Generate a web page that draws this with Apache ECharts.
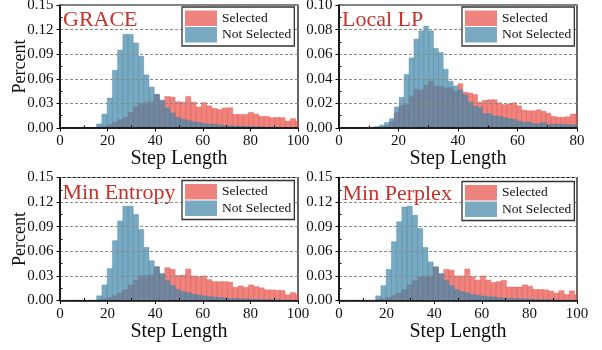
<!DOCTYPE html>
<html>
<head>
<meta charset="utf-8">
<script src="https://cdn.jsdelivr.net/npm/echarts@6/dist/echarts.min.js"></script>
<style>html,body{margin:0;padding:0;background:#fff;}#c{width:602px;height:350px;}</style>
</head>
<body>
<div id="c"></div>
<script>
// ---------------- DATA ----------------
const panelTitles = ['GRACE', 'Local LP', 'Min Entropy', 'Min Perplex'];
const seriesNames = ['Selected', 'Not Selected'];
const xMax = [100, 80, 100, 100];
const yMax = [0.15, 0.10, 0.15, 0.15];
const yInterval = [0.03, 0.02, 0.03, 0.03];
const xInterval = 20;
// histogram bin edges: start + width * k
const binStart = [0, 0.5, 0, 0];
const binWidth = [2.2, 1.645, 2.2, 2.2];

const graceSelected = [0.0004,0.0004,0.0004,0.0004,0.0004,0.0004,0.0004,
  0.0015,0.002,0.004,0.007,0.0105,0.013,0.019,0.026,0.030,0.031,0.032,0.041,0.033,
  0.0385,0.0377,0.032,0.0316,0.0385,0.0316,0.0255,0.031,0.027,0.024,0.0225,0.0245,0.0247,
  0.0166,0.0166,0.0166,0.0192,0.017,0.0142,0.0142,0.0126,0.013,0.0126,0.0085,0.0115,0.0082];
const graceNotSelected = [0.0003,0.0003,0.0003,0.0003,0.0003,0.0003,0.0003,
  0.005,0.017,0.0365,0.0705,0.095,0.1142,0.1142,0.1037,0.0875,0.0648,0.050,0.041,0.034,
  0.0245,0.0183,0.0130,0.0108,0.0094,0.0075,0.0066,0.0055,0.0048,0.0044,0.0036,0.0030,0.0027,
  0.0024,0.0022,0.0020,0.0018,0.0016,0.0014,0.0012,0.0010,0.0009,0.0007,0.0006,0.0005,0.0004];

const localSelected = [0.0004,0.0004,0.0004,0.0004,0.0004,0.0004,0.0004,0.0004,
  0.0008,0.002,0.0054,0.0125,0.0185,0.019,0.0258,0.0315,0.0307,0.0348,0.038,0.0342,0.0337,0.0326,0.033,0.030,
  0.036,0.029,0.0285,0.0272,0.021,0.0225,0.023,0.023,0.0205,0.019,0.0195,0.0205,0.018,0.0145,
  0.014,0.014,0.0148,0.0136,0.012,0.0095,0.0088,0.0088,0.0092,0.0114,0.0114];
const localNotSelected = [0.0003,0.0003,0.0003,0.0003,0.0003,0.0003,0.0005,0.0012,
  0.0025,0.0045,0.0076,0.0171,0.025,0.0435,0.057,0.0723,0.079,0.0829,0.079,0.0647,0.0614,0.0478,0.038,0.0342,
  0.031,0.027,0.021,0.0177,0.0166,0.0117,0.0117,0.0098,0.0095,0.0084,0.0076,0.007,0.0057,0.0045,
  0.0049,0.0036,0.0035,0.0045,0.003,0.003,0.003,0.003,0.0027,0.0027,0.0025];

const entropySelected = [0.0004,0.0004,0.0004,0.0004,0.0004,0.0004,0.0004,
  0.0015,0.002,0.0035,0.006,0.0095,0.013,0.019,0.025,0.030,0.0305,0.031,0.041,0.032,
  0.040,0.038,0.0305,0.031,0.0385,0.030,0.029,0.030,0.0255,0.023,0.023,0.023,0.0225,
  0.016,0.0178,0.016,0.019,0.017,0.0155,0.013,0.013,0.0125,0.0122,0.007,0.0097,0.007];
const entropyNotSelected = [0.0003,0.0003,0.0003,0.0003,0.0003,0.0003,0.0003,
  0.0057,0.019,0.039,0.073,0.097,0.115,0.115,0.105,0.0867,0.0648,0.0486,0.0413,0.0332,
  0.0245,0.0185,0.0135,0.011,0.0095,0.0078,0.0068,0.0056,0.0048,0.0042,0.0036,0.0031,0.0027,
  0.0024,0.0022,0.0020,0.0018,0.0016,0.0014,0.0012,0.0010,0.0009,0.0007,0.0006,0.0005,0.0004];

const perplexSelected = [0.0004,0.0004,0.0004,0.0004,0.0004,0.0004,0.0004,
  0.0015,0.002,0.0035,0.006,0.009,0.013,0.019,0.0245,0.029,0.030,0.030,0.041,0.032,
  0.038,0.037,0.030,0.030,0.0385,0.029,0.025,0.030,0.025,0.022,0.023,0.0245,0.0165,
  0.0165,0.0165,0.019,0.0175,0.0135,0.0135,0.013,0.0115,0.009,0.012,0.0075,0.0118,0.007];
const perplexNotSelected = [0.0003,0.0003,0.0003,0.0003,0.0003,0.0003,0.0003,
  0.0057,0.018,0.038,0.0717,0.096,0.114,0.115,0.104,0.088,0.0648,0.047,0.041,0.033,
  0.0245,0.0183,0.0132,0.0108,0.0094,0.0076,0.0066,0.0055,0.0048,0.0043,0.0036,0.0030,0.0027,
  0.0024,0.0022,0.0020,0.0018,0.0016,0.0014,0.0012,0.0010,0.0009,0.0007,0.0006,0.0005,0.0004];

const panelSelected = [graceSelected, localSelected, entropySelected, perplexSelected];
const panelNotSelected = [graceNotSelected, localNotSelected, entropyNotSelected, perplexNotSelected];

// ---------------- LAYOUT / STYLE ----------------
const FONT = 'Liberation Serif';
const gridPos = [
  {left: 60, top: 5, width: 238, height: 123},
  {left: 339, top: 5, width: 238, height: 123},
  {left: 60, top: 177.5, width: 238, height: 123},
  {left: 339, top: 177.5, width: 238, height: 123}
];
const titlePos = [[63, 9.5], [342, 9.5], [62.5, 182.5], [342.5, 183.5]];
const legendPos = [[182, 7], [462, 7], [182, 180.5], [462, 181.5]];
const colors = ['rgba(232,80,72,0.7)', 'rgba(64,134,168,0.7)'];

function toBins(i, values) {
  return values.map((v, k) => [binStart[i] + binWidth[i] * k, binStart[i] + binWidth[i] * (k + 1), v]);
}

function renderHist(params, api) {
  const x0 = api.value(0), x1 = api.value(1), v = api.value(2);
  const p0 = api.coord([x0, v]);
  const p1 = api.coord([x1, 0]);
  const rect = echarts.graphic.clipRectByRect(
    {x: p0[0], y: p0[1], width: p1[0] - p0[0], height: p1[1] - p0[1]},
    {x: params.coordSys.x, y: params.coordSys.y, width: params.coordSys.width, height: params.coordSys.height}
  );
  if (!rect) return null;
  const st = api.style();
  return {type: 'rect', shape: rect, style: {fill: st.fill, stroke: st.fill, lineWidth: 0.5}};
}

const grid = [], xAxis = [], yAxis = [], series = [], legend = [], title = [];
for (let i = 0; i < 4; i++) {
  grid.push(Object.assign({show: true, borderColor: '#000', borderWidth: 1.2, backgroundColor: 'transparent', outerBoundsMode: 'none'}, gridPos[i]));
  xAxis.push({
    type: 'value', gridIndex: i, min: 0, max: xMax[i], interval: xInterval, z: 3,
    name: 'Step Length', nameLocation: 'middle', nameGap: 21, nameMoveOverlap: false,
    nameTextStyle: {fontFamily: FONT, fontSize: 20, color: '#111'},
    axisLine: {show: true, onZero: false, lineStyle: {color: '#000', width: 1.5}},
    axisTick: {show: true, inside: false, length: 3.5, lineStyle: {color: '#000', width: 1}},
    minorTick: {show: true, splitNumber: 2, length: -2.5, lineStyle: {color: '#000', width: 1}},
    axisLabel: {fontFamily: FONT, fontSize: 15, color: '#111', margin: 6},
    splitLine: {show: false}
  });
  yAxis.push({
    type: 'value', gridIndex: i, min: 0, max: yMax[i], interval: yInterval[i], z: 3,
    name: (i % 2 === 0) ? 'Percent' : '', nameLocation: 'middle', nameGap: 31, nameMoveOverlap: false,
    nameTextStyle: {fontFamily: FONT, fontSize: 18, color: '#111'},
    axisLine: {show: true, onZero: false, lineStyle: {color: '#000', width: 1.5}},
    axisTick: {show: true, inside: false, length: 3.5, lineStyle: {color: '#000', width: 1}},
    minorTick: {show: true, splitNumber: 2, length: -2.5, lineStyle: {color: '#000', width: 1}},
    axisLabel: {fontFamily: FONT, fontSize: 15, color: '#111', margin: 6.5, formatter: v => v.toFixed(2)},
    splitLine: {show: true, lineStyle: {color: '#8a8a8a', width: 1, type: [3, 2]}}
  });
  [panelSelected[i], panelNotSelected[i]].forEach((vals, s) => {
    series.push({
      type: 'custom', name: seriesNames[s], xAxisIndex: i, yAxisIndex: i,
      renderItem: renderHist, itemStyle: {color: colors[s]},
      encode: {x: [0, 1], y: 2}, data: toBins(i, vals), silent: true, animation: false
    });
  });
  legend.push({
    data: seriesNames, left: legendPos[i][0], top: legendPos[i][1], orient: 'vertical',
    icon: 'rect', itemWidth: 32, itemHeight: 15.5, itemGap: 1, padding: [3.5, 3, 3.5, 3],
    borderColor: '#333', borderWidth: 1.3, borderRadius: 0, backgroundColor: '#fff',
    selectedMode: false, textStyle: {fontFamily: FONT, fontSize: 13.5, color: '#111'}
  });
  title.push({
    text: panelTitles[i], left: titlePos[i][0], top: titlePos[i][1], padding: 0,
    textStyle: {fontFamily: FONT, fontSize: 22, fontWeight: 'normal', color: '#C8302A'}
  });
}

const chart = echarts.init(document.getElementById('c'), null, {renderer: 'canvas'});
chart.setOption({animation: false, backgroundColor: '#fff', grid, xAxis, yAxis, series, legend, title});
</script>
</body>
</html>
